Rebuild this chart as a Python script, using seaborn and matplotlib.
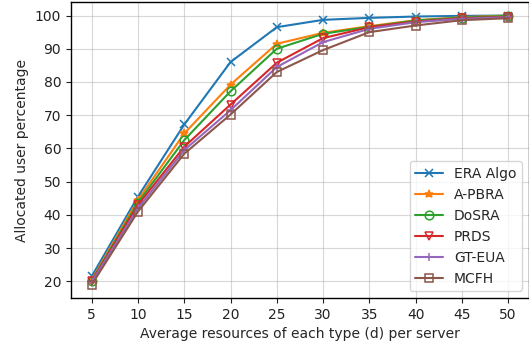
import matplotlib
matplotlib.use("Agg")
import matplotlib.pyplot as plt
import seaborn as sns
import pandas as pd

# Average resources of each type (d) per server
resources = [5, 10, 15, 20, 25, 30, 35, 40, 45, 50]

era_algo = [21.5, 45.5, 67.2, 86.0, 96.5, 98.7, 99.3, 99.7, 99.9, 100.0]
a_pbra   = [20.5, 44.5, 64.5, 79.2, 91.5, 94.8, 96.8, 98.6, 99.5, 100.0]
dosra    = [20.2, 43.7, 62.5, 77.2, 90.0, 94.5, 96.6, 98.5, 99.4, 99.9]
prds     = [20.0, 43.0, 60.5, 73.2, 85.8, 93.2, 96.5, 98.2, 99.2, 99.6]
gt_eua   = [19.8, 42.0, 59.5, 71.5, 84.5, 92.0, 96.0, 98.0, 99.0, 99.5]
mcfh     = [19.0, 41.0, 58.4, 70.2, 83.0, 89.6, 95.0, 97.0, 98.6, 99.2]

series_names = ["ERA Algo", "A-PBRA", "DoSRA", "PRDS", "GT-EUA", "MCFH"]
series_values = [era_algo, a_pbra, dosra, prds, gt_eua, mcfh]

rows = []
for name, vals in zip(series_names, series_values):
    for d, v in zip(resources, vals):
        rows.append({"d": d, "pct": v, "algo": name})
df = pd.DataFrame(rows)

sns.set_style("ticks")
plt.rcParams["font.family"] = ["DejaVu Sans"]

fig = plt.figure(figsize=(5.29, 3.47), dpi=100)
ax = fig.add_axes([0.134, 0.141, 0.866, 0.853])

palette = sns.color_palette("tab10", 6)
marker_styles = {
    "ERA Algo": dict(marker="x", mfc=None),
    "A-PBRA": dict(marker="*", mfc=None),
    "DoSRA": dict(marker="o", mfc="none"),
    "PRDS": dict(marker="v", mfc="none"),
    "GT-EUA": dict(marker="+", mfc=None),
    "MCFH": dict(marker="s", mfc="none"),
}

for i, name in enumerate(series_names):
    sub = df[df["algo"] == name]
    st = marker_styles[name]
    kw = dict(marker=st["marker"], markersize=6.2, markeredgewidth=1.1)
    if st["mfc"] is not None:
        kw["markerfacecolor"] = st["mfc"]
    sns.lineplot(data=sub, x="d", y="pct", ax=ax, color=palette[i],
                 label=name, linewidth=1.5, markeredgecolor=palette[i], **kw)

ax.set_xticks(resources)
ax.set_yticks([20, 30, 40, 50, 60, 70, 80, 90, 100])
ax.tick_params(labelsize=10, colors="#222222", direction="out", length=3.5)
ax.set_xlabel("Average resources of each type (d) per server", fontsize=10)
ax.set_ylabel("Allocated user percentage", fontsize=10)
ax.grid(True, color="#b0b0b0", alpha=0.5, linewidth=0.8)
for sp in ax.spines.values():
    sp.set_color("black")
    sp.set_linewidth(1.0)

ax.legend(loc="lower right", fontsize=10, frameon=True, framealpha=0.8)

fig.savefig("out.png", dpi=100)
